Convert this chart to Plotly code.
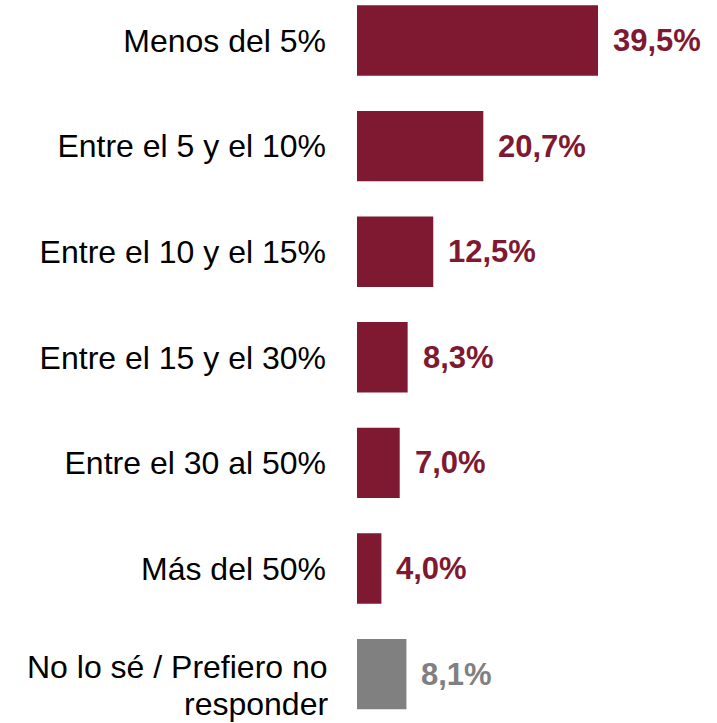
import plotly.graph_objects as go

categories = ["Menos del 5%", "Entre el 5 y el 10%", "Entre el 10 y el 15%",
              "Entre el 15 y el 30%", "Entre el 30 al 50%", "Más del 50%",
              "No lo sé / Prefiero no<br>responder"]
values = [39.5, 20.7, 12.5, 8.3, 7.0, 4.0, 8.1]
value_labels = ["39,5%", "20,7%", "12,5%", "8,3%", "7,0%", "4,0%", "8,1%"]

MAROON = "#7F1932"
GRAY = "#808080"
colors = [MAROON] * 6 + [GRAY]

positions = list(range(len(categories)))
FONT = "Liberation Sans, Arial"

fig = go.Figure(go.Bar(
    x=values, y=positions, orientation="h",
    marker=dict(color=colors, line=dict(width=0)),
    width=0.667, hoverinfo="skip",
))

for p, v, lab, c in zip(positions, values, value_labels, colors):
    fig.add_annotation(x=v, y=p, text=f"<b>{lab}</b>", showarrow=False,
                       xanchor="left", yanchor="middle", xshift=13,
                       font=dict(family=FONT, size=31, color=c))

# Category labels: single-line ones as tick labels, the two-line one as separate lines
tick_text = [c if "<br>" not in c else "" for c in categories]
for p, c in zip(positions, categories):
    if "<br>" in c:
        lines = c.split("<br>")
        shifts = [6.7, -30.0]
        for line, ys in zip(lines, shifts):
            fig.add_annotation(x=0, xref="x", y=p, yref="y", text=line, showarrow=False,
                               xanchor="right", yanchor="middle", xshift=-28, yshift=ys,
                               borderpad=0,
                               font=dict(family=FONT, size=32, color="#000000"))

fig.update_layout(
    width=717, height=723,
    margin=dict(l=357, r=0, t=0, b=0),
    paper_bgcolor="white", plot_bgcolor="white",
    showlegend=False,
    font=dict(family=FONT, size=32, color="#000000"),
    xaxis=dict(range=[0, 59.0], visible=False, fixedrange=True),
    yaxis=dict(range=[6.463, -0.3835], tickmode="array", tickvals=positions,
               ticktext=tick_text, showgrid=False, zeroline=False, showline=False,
               ticks="", ticklabelstandoff=30, fixedrange=True, automargin=False),
)

fig.write_html("out.html", config={"displayModeBar": False},
               post_script="document.body.style.margin='0';document.body.style.overflow='hidden';")
